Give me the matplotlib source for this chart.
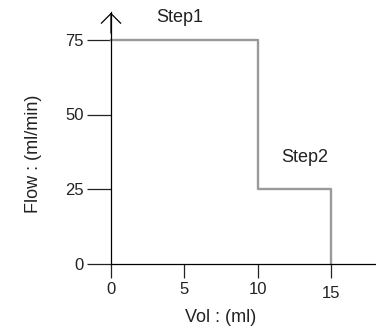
import matplotlib
matplotlib.use("Agg")
import matplotlib.pyplot as plt

vol = [0, 10, 15]
flow = [75, 25, 0]
xticks = [0, 5, 10, 15]
yticks = [0, 25, 50, 75]
step_labels = ["Step1", "Step2"]

plt.rcParams['font.family'] = ['Liberation Sans', 'DejaVu Sans']

W, H = 376, 328
fig = plt.figure(figsize=(W/100, H/100), dpi=100)
x0, y0 = 111, 264
px_x = 14.65
px_y = 2.99
xmax = (W - x0) / px_x
ymax = (y0 - 12) / px_y
ax = fig.add_axes([x0/W, (H - y0)/H, (W - x0)/W, (y0 - 12)/H])
ax.set_xlim(0, xmax)
ax.set_ylim(0, ymax)

ax.step(vol, flow, where='post', color='#9a9a9a', lw=1.7, clip_on=False)

for s in ['top', 'right']:
    ax.spines[s].set_visible(False)
for s in ['left', 'bottom']:
    ax.spines[s].set_linewidth(0.9)
    ax.spines[s].set_color('black')

ax.set_xticks(xticks)
ax.set_yticks(yticks)
ax.set_xticklabels([str(v) for v in xticks])
ax.set_yticklabels([str(v) for v in yticks])
ax.tick_params(axis='y', direction='out', length=17.5, width=0.9, pad=2, labelsize=12, colors='#222222')
ax.tick_params(axis='x', direction='out', length=10, width=0.9, pad=3, labelsize=12, colors='#222222')
for lab in ax.get_xticklabels():
    if lab.get_text() == '15':
        lab.set_y(-0.015)

# arrow at top of y axis
ax.annotate('', xy=(0, ymax + 0.7), xytext=(0, ymax - 8),
            arrowprops=dict(arrowstyle='->,head_length=0.7,head_width=0.7', color='black', lw=0.9),
            annotation_clip=False)

ax.text(4.7, 82.3, step_labels[0], fontsize=13, ha='center', va='center', color='#222222')
ax.text(13.24, 35.5, step_labels[1], fontsize=13, ha='center', va='center', color='#222222')

fig.text(33/W, 1 - 154/H, 'Flow : (ml/min)', rotation=90, fontsize=13, ha='center', va='center', color='#222222')
fig.text(221/W, 1 - 318/H, 'Vol : (ml)', fontsize=13, ha='center', va='center', color='#222222')

fig.savefig('out.png', dpi=100)
